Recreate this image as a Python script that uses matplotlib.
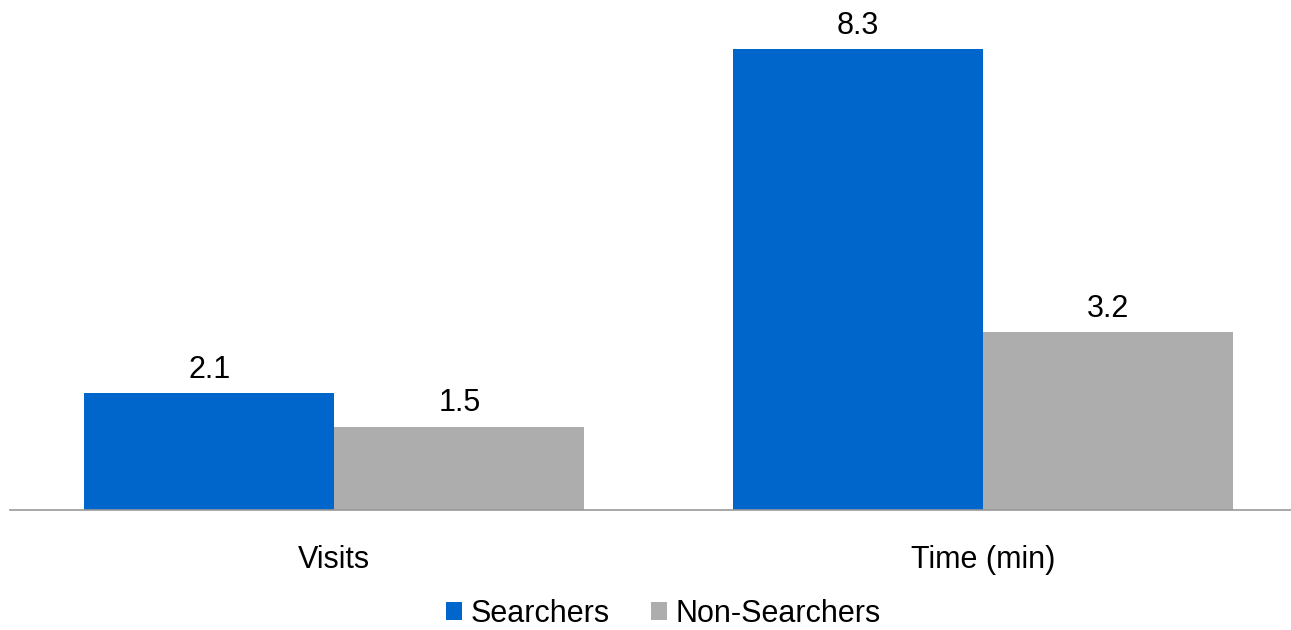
import matplotlib
matplotlib.use('Agg')
from matplotlib import pyplot as plt
import numpy as np

categories = ['Visits', 'Time (min)']
searchers = [2.1, 8.3]
non_searchers = [1.5, 3.2]
series_names = ['Searchers', 'Non-Searchers']

BLUE = '#0066CC'
GRAY = '#ADADAD'

plt.rcParams['font.family'] = ['Liberation Sans', 'DejaVu Sans']
FS = 22

fig = plt.figure(figsize=(12.91, 6.30), dpi=100)
# axes: left edge at x=10, baseline at y=510 px
ax = fig.add_axes([10 / 1291, 120 / 630, 1281 / 1291, 510 / 630])

x = np.arange(len(categories))
w = 250 / 649
b1 = ax.bar(x - w / 2, searchers, w, color=BLUE, label=series_names[0])
b2 = ax.bar(x + w / 2, non_searchers, w, color=GRAY, label=series_names[1])

for bars, vals in ((b1, searchers), (b2, non_searchers)):
    for r, v in zip(bars, vals):
        ax.text(r.get_x() + r.get_width() / 2, v + 0.15, f'{v:.1f}',
                ha='center', va='bottom', fontsize=FS)

ax.set_xlim(-0.5, (1281 - 324) / 649)
ax.set_ylim(0, 510 / 55.5)
for s in ['top', 'right', 'left']:
    ax.spines[s].set_visible(False)
ax.spines['bottom'].set_color('#999999')
ax.spines['bottom'].set_linewidth(1.2)
ax.set_yticks([])
ax.set_xticks(x)
ax.set_xticklabels(categories, fontsize=FS)
ax.tick_params(axis='x', length=0, pad=25)

fig.legend(loc='center', bbox_to_anchor=(0.514, 1 - 614 / 630), ncol=2, frameon=False,
           fontsize=FS, handlelength=0.53, handleheight=0.53, handletextpad=0.28,
           columnspacing=1.35)

fig.savefig('out.png', dpi=100)
